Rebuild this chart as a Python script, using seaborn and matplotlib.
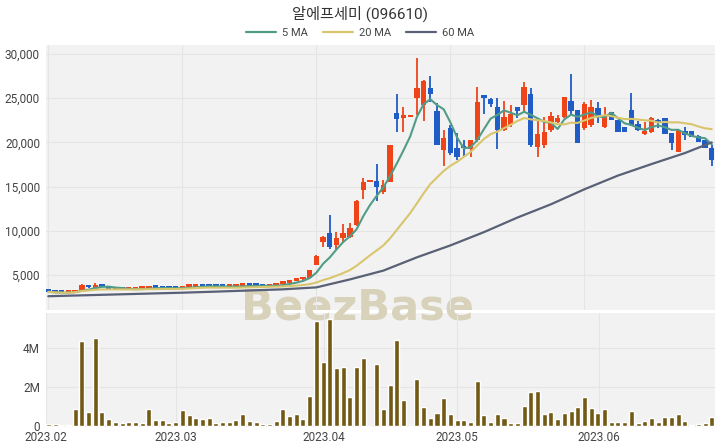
import numpy as np
import pandas as pd
import seaborn as sns
import matplotlib
matplotlib.use("Agg")
import matplotlib.pyplot as plt
from matplotlib.patches import Rectangle
from matplotlib.lines import Line2D
from matplotlib.ticker import FuncFormatter

title = "알에프세미 (096610)"
month_labels = ["2023.02", "2023.03", "2023.04", "2023.05", "2023.06"]
ma_names = ["5 MA", "20 MA", "60 MA"]

# daily candles (trading-day slots 0..99)
opens = [3150, 3050, 2960, 2950, 3000, 3250, 3750, 3450, 3870, 3650,
         3450, 3350, 3300, 3390, 3470, 3510, 3600, 3520, 3480, 3470,
         3480, 3630, 3700, 3800, 3720, 3700, 3660, 3640, 3670, 3760,
         3840, 3780, 3740, 3730, 3800, 4000, 4150, 4330, 4500, 4700,
         6130, 8700, 9720, 8390, 9150, 9330, 10660, 14620, 15500, 15670,
         14420, 15560, 23360, 22790, 22850, 25060, 24230, 26190, 23550, 19140,
         21590, 19400, 19520, 19250, 20270, 25360, 24870, 24040, 21400, 21970,
         23970, 24230, 25440, 19520, 19710, 21400, 22270, 22910, 24680, 23670,
         21590, 21970, 23850, 21780, 23400, 22530, 21780, 23670, 22040, 20910,
         21140, 22530, 22800, 21030, 18950, 21290, 21290, 20760, 20270, 19330]
highs = [3180, 3080, 3000, 3010, 3320, 3950, 3820, 4130, 3900, 3680,
         3480, 3380, 3400, 3500, 3540, 3700, 3630, 3540, 3510, 3500,
         3700, 3740, 3830, 3830, 3750, 3720, 3690, 3700, 3780, 3900,
         3860, 3800, 3770, 3800, 4000, 4180, 4360, 4550, 4780, 5600,
         7240, 9400, 11790, 9900, 10740, 10850, 13450, 15940, 15500, 17560,
         15750, 19720, 25480, 23970, 22850, 29510, 27060, 27510, 24420, 21400,
         21970, 21030, 20270, 20270, 26300, 25360, 24980, 24980, 24680, 24230,
         24040, 26870, 26190, 22530, 22910, 23480, 23100, 25170, 27700, 23670,
         24610, 24800, 24530, 24040, 23400, 22530, 21780, 25550, 22420, 22350,
         22910, 22650, 22800, 21030, 21400, 21780, 21290, 20830, 20270, 19710]
lows = [3080, 2940, 2920, 2930, 2990, 3230, 3560, 3420, 3620, 3430,
        3320, 3280, 3290, 3370, 3450, 3500, 3500, 3460, 3440, 3420,
        3470, 3610, 3680, 3700, 3680, 3640, 3620, 3630, 3660, 3740,
        3760, 3720, 3700, 3720, 3790, 3980, 4120, 4300, 4480, 4680,
        6100, 8130, 7940, 7940, 8700, 9150, 10600, 13600, 15500, 13400,
        14130, 15500, 21210, 21210, 22850, 23100, 22420, 24600, 19700, 17370,
        18570, 18010, 18390, 18390, 20080, 23170, 24040, 19250, 21290, 21780,
        22720, 23480, 19520, 18390, 19330, 21210, 22160, 22720, 23100, 19890,
        21400, 21780, 22160, 21590, 22530, 21210, 21140, 21890, 21290, 20840,
        21030, 21590, 20910, 19140, 18880, 20270, 20650, 20000, 19330, 17370]
closes = [3100, 2960, 2950, 2990, 3300, 3870, 3600, 3870, 3650, 3450,
          3350, 3300, 3380, 3480, 3510, 3620, 3520, 3480, 3470, 3450,
          3650, 3700, 3800, 3720, 3700, 3660, 3640, 3680, 3760, 3860,
          3780, 3740, 3720, 3780, 3950, 4130, 4320, 4500, 4740, 5570,
          7190, 9330, 8130, 9220, 9790, 10350, 13370, 15560, 15500, 14990,
          15180, 19710, 22650, 22990, 22850, 26190, 26950, 25440, 19710, 20460,
          18760, 18390, 19330, 20270, 24530, 24980, 24340, 21400, 22910, 23170,
          23550, 26300, 19710, 20910, 21140, 23020, 22800, 25170, 23550, 19970,
          24310, 24040, 22910, 23020, 22530, 21210, 21140, 21970, 21400, 21330,
          22800, 22160, 20910, 19890, 21400, 20840, 20650, 20080, 19400, 18010]
# volume in millions of shares
volumes = [0.10, 0.08, 0.05, 0.07, 0.86, 4.36, 0.73, 4.51, 0.73, 0.38,
           0.20, 0.17, 0.20, 0.20, 0.15, 0.89, 0.31, 0.33, 0.18, 0.22,
           0.80, 0.58, 0.43, 0.38, 0.40, 0.17, 0.22, 0.22, 0.33, 0.60,
           0.26, 0.22, 0.10, 0.10, 0.24, 0.88, 0.49, 0.62, 0.34, 1.54,
           5.40, 3.31, 5.47, 2.98, 3.03, 1.51, 3.03, 3.50, 0.00, 3.18,
           0.89, 2.09, 4.39, 1.35, 0.00, 2.43, 0.97, 0.39, 0.68, 1.42,
           0.62, 0.29, 0.30, 0.19, 2.31, 0.55, 0.22, 0.62, 0.39, 0.14,
           0.14, 1.01, 1.74, 1.79, 0.60, 0.72, 0.34, 0.65, 0.79, 0.99,
           1.47, 0.90, 0.68, 0.86, 0.20, 0.20, 0.20, 0.79, 0.17, 0.24,
           0.40, 0.20, 0.45, 0.45, 0.62, 0.27, 0.05, 0.08, 0.14, 0.48]
# 60 day average (needs history before the window)
ma60_slots = [0, 5, 10, 15, 20, 25, 30, 35, 40, 45, 50, 55, 60, 65, 70, 75, 80, 85, 90, 95, 99]
ma60_values = [2600, 2700, 2800, 2900, 3000, 3120, 3250, 3380, 3600, 4500, 5500,
               7000, 8350, 9850, 11500, 13000, 14700, 16250, 17550, 18800, 20000]

df = pd.DataFrame({"slot": np.arange(len(closes)), "open": opens, "high": highs,
                   "low": lows, "close": closes, "volume": np.array(volumes) * 1e6})
df["ma5"] = df["close"].rolling(5, min_periods=1).mean()
df["ma20"] = df["close"].rolling(20, min_periods=1).mean()

up_color = "#ee4418"
down_color = "#1f5cc6"
vol_color = "#725914"
ma_colors = ["#519c87", "#d9c56c", "#5a6176"]
panel_bg = "#f2f2f2"
grid_color = "#e5e5e5"

sns.set_style("white")
plt.rcParams["font.family"] = ["Roboto", "Noto Sans CJK KR", "DejaVu Sans"]

fig = plt.figure(figsize=(7.2, 4.48), dpi=100)
price_box = [0.0632, 0.308, 0.930, 0.5915]
vol_box = [0.0632, 0.0469, 0.930, 0.2545]
for box in (price_box, vol_box):
    fig.patches.append(Rectangle((box[0], box[1]), box[2], box[3], transform=fig.transFigure,
                                 facecolor=panel_bg, edgecolor="none", zorder=-10))
fig.text(0.497, 0.3125, "BeezBase", ha="center", va="center", fontsize=31,
         fontweight="bold", color="#d8d2ba", family="DejaVu Sans", zorder=-5)

ax = fig.add_axes(price_box)
axv = fig.add_axes(vol_box)
for a in (ax, axv):
    a.set_facecolor("none")
    for s in a.spines.values():
        s.set_visible(False)

# candles
rising = df["close"] >= df["open"]
colors = np.where(rising, up_color, down_color)
ax.vlines(df["slot"], df["low"], df["high"], colors=colors, lw=1.3, zorder=2)
body = np.maximum((df["close"] - df["open"]).abs(), 300)
ax.bar(df["slot"], body, bottom=df[["open", "close"]].min(axis=1), width=0.8,
       color=colors, linewidth=0, zorder=3)

sns.lineplot(data=df, x="slot", y="ma5", color=ma_colors[0], lw=1.5, ax=ax, zorder=4)
sns.lineplot(data=df, x="slot", y="ma20", color=ma_colors[1], lw=1.5, ax=ax, zorder=4)
sns.lineplot(x=ma60_slots, y=ma60_values, color=ma_colors[2], lw=1.6, ax=ax, zorder=4)

ax.set_xlim(-0.42, 99.5)
ax.set_ylim(1040, 31020)
ax.set_xticks([0, 20, 40, 60, 80])
ax.set_yticks(range(5000, 30001, 5000))
ax.yaxis.set_major_formatter(FuncFormatter(lambda v, p: f"{int(v):,}"))
ax.grid(True, color=grid_color, lw=0.8)
ax.set_axisbelow(True)
ax.tick_params(labelbottom=False, length=0, labelsize=8.5, labelcolor="#444", pad=4)
ax.set_xlabel("")
ax.set_ylabel("")

# volume
sns.barplot(data=df, x="slot", y="volume", color=vol_color, saturation=1, width=0.75,
            errorbar=None, ax=axv, zorder=2)
axv.set_xlim(-0.42, 99.5)
axv.set_ylim(-0.05e6, 5.8e6)
axv.set_xticks([-0.4, 19.0, 41.1, 61.0, 82.1], labels=month_labels)
axv.set_yticks([0, 2e6, 4e6], labels=["0", "2M", "4M"])
axv.grid(True, color=grid_color, lw=0.8)
axv.set_axisbelow(True)
axv.tick_params(length=0, labelsize=8.5, labelcolor="#444")
axv.tick_params(axis="x", pad=3)
axv.tick_params(axis="y", pad=4)
axv.set_xlabel("")
axv.set_ylabel("")

fig.text(0.5, 0.969, title, ha="center", va="center", fontsize=11, color="#333")
handles = [Line2D([], [], color=c, lw=1.6) for c in ma_colors]
fig.legend(handles, ma_names, loc="center", bbox_to_anchor=(0.5, 0.926), ncol=3,
           frameon=False, fontsize=8, handlelength=2.7, columnspacing=1.4,
           handletextpad=0.5, labelcolor="#444")

fig.savefig("out.png", dpi=100)
